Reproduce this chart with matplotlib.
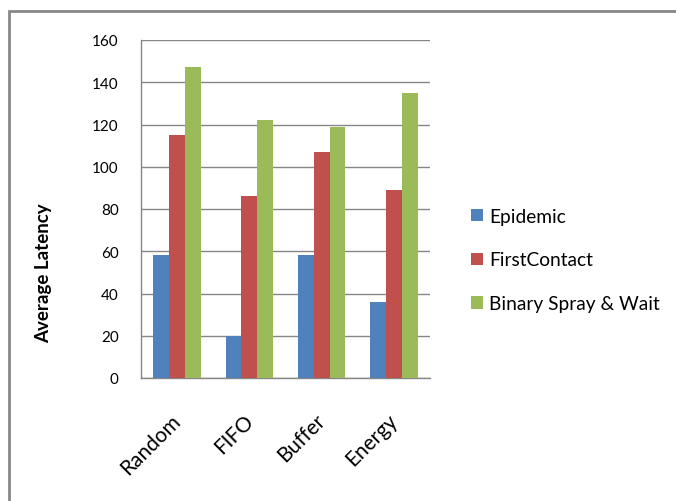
import matplotlib.pyplot as plt
import numpy as np
from matplotlib.patches import Rectangle

categories = ["Random", "FIFO", "Buffer", "Energy"]
series_names = ["Epidemic", "FirstContact", "Binary Spray & Wait"]
epidemic = [58, 20, 58, 36]
first_contact = [115, 86, 107, 89]
spray_wait = [147, 122, 119, 135]
colors = ["#4F81BD", "#C0504D", "#9BBB59"]

plt.rcParams['font.family'] = ['Lato', 'DejaVu Sans']

fig = plt.figure(figsize=(6.76, 5.02), dpi=100)
ax = fig.add_axes([141 / 676, 1 - 379 / 502, 289 / 676, 338 / 502])

# outer chart frame (right/bottom edges run off the image)
fig.patches.append(Rectangle((9 / 676, -0.1), 1.2, 1 - 12 / 502 + 0.1,
                             transform=fig.transFigure, fill=False,
                             edgecolor="#878787", linewidth=2))

x = np.arange(len(categories))
w = 0.22
for i, (vals, name) in enumerate(zip([epidemic, first_contact, spray_wait], series_names)):
    ax.bar(x + (i - 1) * w, vals, w, color=colors[i], label=name, zorder=3)

ax.set_xlim(-0.5, 3.5)
ax.set_ylim(0, 160)
ax.set_yticks(range(0, 161, 20))
ax.yaxis.grid(True, color="#868686", linewidth=1, zorder=0)
ax.set_xticks(x - 0.09)
ax.set_xticklabels(categories, rotation=45, ha="right", va="top",
                   rotation_mode="anchor", fontsize=15)
ax.tick_params(axis="y", labelsize=11, length=0, pad=16)
ax.tick_params(axis="x", length=0, pad=23)
for s in ["top", "right"]:
    ax.spines[s].set_visible(False)
for s in ["left", "bottom"]:
    ax.spines[s].set_color("#868686")
    ax.spines[s].set_linewidth(1)

fig.text(44 / 676, 1 - 273 / 502, "Average Latency", rotation=90, fontsize=13.5,
         fontweight="bold", ha="center", va="center")

ax.legend(loc="center left", bbox_to_anchor=(454 / 676, 1 - 261 / 502),
          bbox_transform=fig.transFigure, frameon=False, fontsize=13.8,
          handlelength=0.6, handleheight=0.6, handletextpad=0.35, labelspacing=1.4)

fig.savefig("out.png", dpi=100)
